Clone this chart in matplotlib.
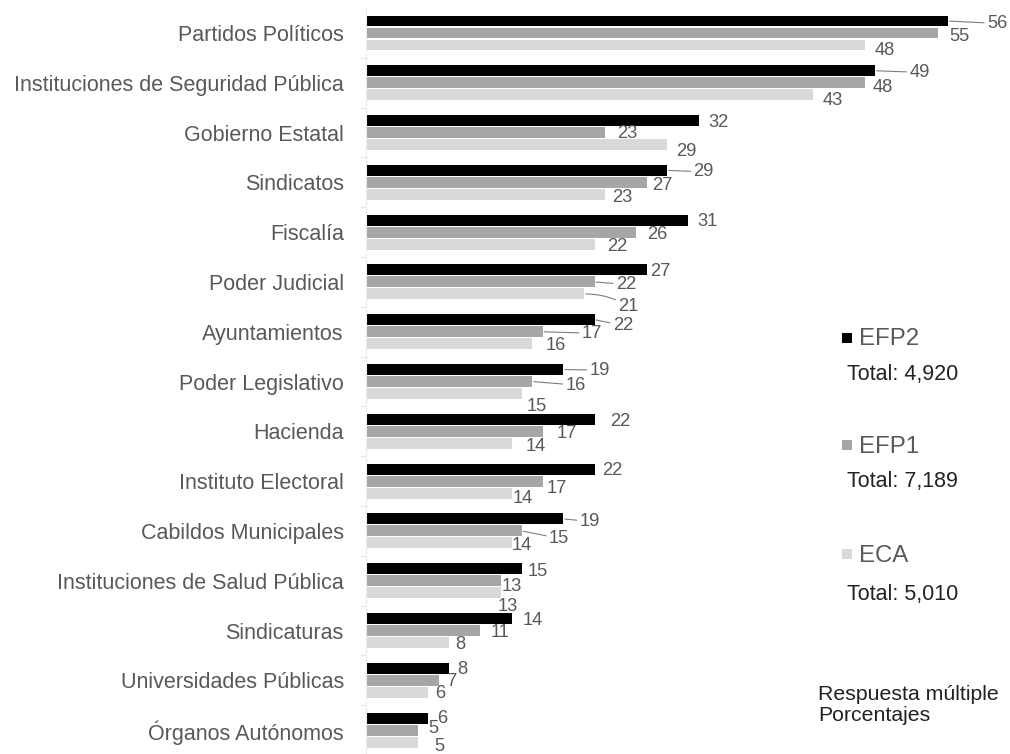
import matplotlib
matplotlib.use("Agg")
import matplotlib.pyplot as plt
from matplotlib.patches import Rectangle
import numpy as np

plt.rcParams['font.family'] = ['Liberation Sans', 'DejaVu Sans']

categories = ["Partidos Políticos", "Instituciones de Seguridad Pública", "Gobierno Estatal",
              "Sindicatos", "Fiscalía", "Poder Judicial", "Ayuntamientos", "Poder Legislativo",
              "Hacienda", "Instituto Electoral", "Cabildos Municipales",
              "Instituciones de Salud Pública", "Sindicaturas", "Universidades Públicas",
              "Órganos Autónomos"]
efp2 = [56, 49, 32, 29, 31, 27, 22, 19, 22, 22, 19, 15, 14, 8, 6]
efp1 = [55, 48, 23, 27, 26, 22, 17, 16, 17, 17, 15, 13, 11, 7, 5]
eca = [48, 43, 29, 23, 22, 21, 16, 15, 14, 14, 14, 13, 8, 6, 5]
series_names = ["EFP2", "EFP1", "ECA"]
totals = ["Total: 4,920", "Total: 7,189", "Total: 5,010"]

colors = ["#000000", "#a6a6a6", "#d9d9d9"]
txt_gray = "#595959"

# label placement in pixels: (dx from bar end, dy from bar centre (down), leader line)
offsets = [
    [(39, 1, True), (34, 0, True), (10, 0, False), (26, 0, True), (9, 0, False),
     (4, 0, False), (18, 4, True), (26, -1, True), (15, 1, False), (7, 0, False),
     (16, 1, True), (6, 1, False), (11, 0, False), (8, 0, False), (9, -1, False)],
    [(12, 2, False), (8, 3, False), (12, -1, False), (6, 2, False), (11, 1, False),
     (21, 1, True), (39, 0, True), (33, 2, True), (14, 1, False), (4, 6, False),
     (27, 6, True), (1, 4, False), (10, 0, False), (8, 0, False), (10, -3, False)],
    [(10, 4, False), (10, 4, False), (9, 5, False), (7, 2, False), (12, 1, False),
     (34, 11, True), (13, 0, False), (5, 11, False), (14, 2, False), (1, 4, False),
     (0, 1, False), (-3, 12, False), (6, 0, False), (7, 0, False), (16, 3, False)],
]

fig = plt.figure(figsize=(10.1, 7.54), dpi=100)
ax = fig.add_axes([366 / 1010, 0, 634 / 1010, 746.4 / 754])

y = np.arange(len(categories))
h = 0.22
step = 0.241
for k, (vals, c) in enumerate(zip([efp2, efp1, eca], colors)):
    ypos = y + (k - 1) * step
    ax.barh(ypos, vals, height=h, color=c, edgecolor='none')
    for i, v in enumerate(vals):
        dx, dy, lead = offsets[k][i]
        ap = None
        if lead:
            rad = 0.15 if dy > 8 else 0.0
            ap = dict(arrowstyle='-', color='#7f7f7f', lw=0.8, shrinkA=0, shrinkB=1,
                      connectionstyle='arc3,rad=%s' % rad)
        ax.annotate(str(v), xy=(v, ypos[i]), xytext=(dx * 0.72, -(dy + 1.5) * 0.72),
                    textcoords='offset points', ha='left', va='center',
                    fontsize=13.2, color=txt_gray, arrowprops=ap)

ax.set_xlim(0, 61)
ax.set_ylim(14.48, -0.51)
ax.set_yticks(y)
ax.set_yticklabels(categories, fontsize=15.5, color=txt_gray)
ax.tick_params(axis='y', which='major', length=0, pad=16)
ax.set_yticks(y[:-1] + 0.5, minor=True)
ax.tick_params(axis='y', which='minor', length=4, color='#e3e3e3')
ax.set_xticks([])
for s in ['top', 'right', 'bottom']:
    ax.spines[s].set_visible(False)
ax.spines['left'].set_color('#ececec')

# legend with totals
leg_y = [345, 453, 562]
tot_y = [380, 487, 600]
mark_y = [337.5, 445, 554]
for name, c, tot, ly, ty, my in zip(series_names, colors, totals, leg_y, tot_y, mark_y):
    fig.add_artist(Rectangle((842 / 1010, 1 - (my + 5) / 754), 10 / 1010, 10 / 754,
                             transform=fig.transFigure, color=c, lw=0))
    fig.text(859 / 1010, 1 - ly / 754, name, fontsize=17.3, color=txt_gray,
             va='baseline', ha='left')
    fig.text(847 / 1010, 1 - ty / 754, tot, fontsize=15.5, color='#222222',
             va='baseline', ha='left')

fig.text(818 / 1010, 1 - 700 / 754, "Respuesta múltiple", fontsize=15.3, color='#222222',
         va='baseline')
fig.text(818 / 1010, 1 - 721 / 754, "Porcentajes", fontsize=15.3, color='#222222',
         va='baseline')

fig.savefig("out.png", dpi=100, facecolor='white')
